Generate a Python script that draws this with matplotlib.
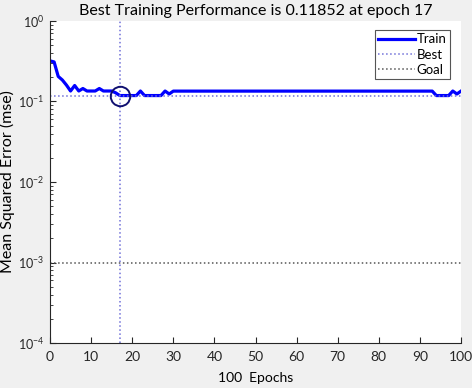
import numpy as np
import matplotlib
matplotlib.use("Agg")
import matplotlib.pyplot as plt
from matplotlib.ticker import LogLocator, NullFormatter

plt.rcParams['font.family'] = ['Lato', 'DejaVu Sans']

# training performance per epoch
epochs = np.arange(0, 101)
train_mse = [0.32, 0.31, 0.205, 0.185, 0.16, 0.135, 0.158, 0.135, 0.145, 0.135,
             0.135, 0.135, 0.145, 0.135, 0.135, 0.135, 0.128, 0.11852, 0.11852, 0.11852,
             0.11852, 0.11852, 0.135, 0.11852, 0.11852, 0.11852, 0.11852, 0.11852, 0.135, 0.124]
train_mse += [0.1346] * (94 - 30)
train_mse += [0.11852, 0.11852, 0.11852, 0.11852, 0.135, 0.124, 0.1346]

best_epoch = 17
best_perf = 0.11852
goal = 1e-3
n_epochs = 100

fig = plt.figure(figsize=(4.72, 3.88), dpi=100, facecolor='#f0f0f0')
ax = fig.add_axes([50/472, 45/388, 411/472, 322/388])
ax.set_facecolor('white')

ax.semilogy(epochs, train_mse, color='#0000ff', lw=2.3, label='Train')
ax.axvline(best_epoch, color='#7070d8', ls=':', lw=1.1, label='Best')
ax.axhline(best_perf, color='#7070d8', ls=':', lw=1.1)
ax.axhline(goal, color='#555555', ls=':', lw=1.1, label='Goal')
ax.plot(best_epoch, best_perf, 'o', ms=14, mfc='none', mec='#101070', mew=1.4)

ax.set_xlim(0, n_epochs)
ax.set_ylim(1e-4, 1)
ax.set_xticks(np.arange(0, 101, 10))
ax.yaxis.set_minor_locator(LogLocator(base=10, subs=np.arange(2, 10)))
ax.yaxis.set_minor_formatter(NullFormatter())

for s in ['top', 'right']:
    ax.spines[s].set_visible(False)
for s in ['left', 'bottom']:
    ax.spines[s].set_color('#262626')
ax.tick_params(which='both', direction='in', colors='#262626')
ax.tick_params(which='major', length=4)
ax.tick_params(which='minor', length=2)
ax.tick_params(axis='x', labelsize=10, pad=6)
ax.tick_params(axis='y', labelsize=9, pad=4)

ax.set_title('Best Training Performance is 0.11852 at epoch 17', fontsize=11.5, pad=4)
ax.set_xlabel('100  Epochs', fontsize=10, labelpad=6)
ax.set_ylabel('Mean Squared Error (mse)', fontsize=11.5)
ax.yaxis.set_label_coords(-0.085, 0.5)

leg = ax.legend(loc='upper right', fontsize=9.5, handlelength=2.8, handletextpad=0.1,
                borderpad=0.25, labelspacing=0.25, borderaxespad=0, fancybox=False,
                framealpha=1, edgecolor='#555555', bbox_to_anchor=(0.973, 0.972))
leg.get_frame().set_linewidth(0.8)

fig.savefig('out.png', dpi=100, facecolor=fig.get_facecolor())
